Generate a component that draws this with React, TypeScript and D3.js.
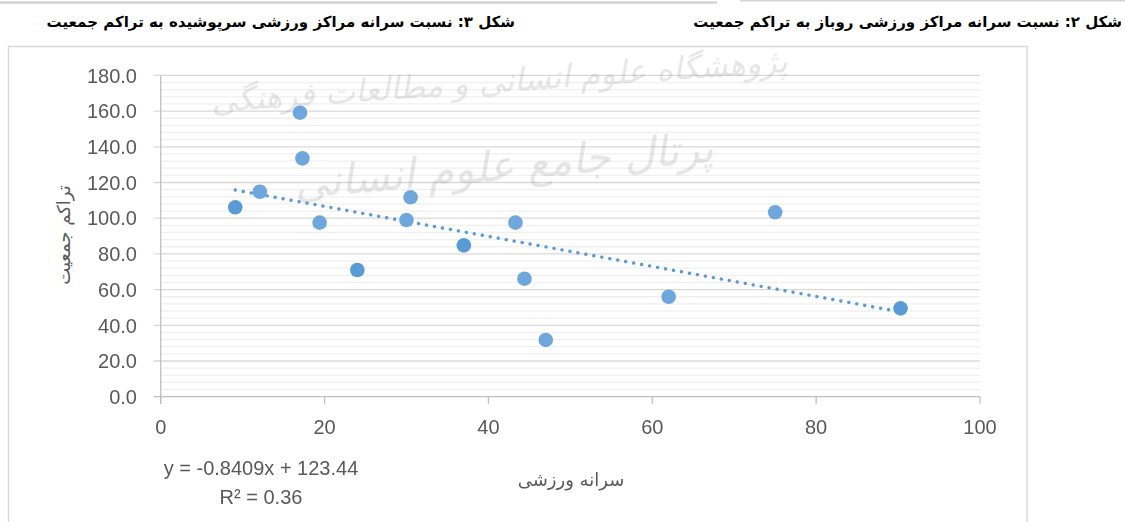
import React from "react";
import * as d3 from "d3";

// ---- data ----
const sportPerCapita = [9.1, 12.1, 17.0, 17.3, 19.4, 24.0, 30.0, 30.5, 37.0, 43.3, 44.4, 47.0, 62.0, 75.0, 90.3];
const populationDensity = [106.1, 114.8, 159.1, 133.5, 97.5, 71.0, 99.0, 111.7, 84.8, 97.5, 66.1, 31.8, 56.0, 103.3, 49.5];
const xTicks = [0, 20, 40, 60, 80, 100];
const yTicks = [0, 20, 40, 60, 80, 100, 120, 140, 160, 180];
const trendSlope = -0.8409;
const trendIntercept = 123.44;
const equationLabel = "y = -0.8409x + 123.44";
const r2Label = "R² = 0.36";
const xTitle = "سرانه ورزشی";
const yTitle = "تراکم جمعیت";
const titleRight = "شکل ۲: نسبت سرانه مراکز ورزشی روباز به تراکم جمعیت";
const titleLeft = "شکل ۳: نسبت سرانه مراکز ورزشی سرپوشیده به تراکم جمعیت";
const watermark1 = "پژوهشگاه علوم انسانی و مطالعات فرهنگی";
const watermark2 = "پرتال جامع علوم انسانی";

// style: points rendered slightly darker in the reference
const darkerIdx = new Set([0, 5, 8, 14]);

const W = 1125;
const H = 522;

export default function App() {
  const x = d3.scaleLinear().domain([0, 100]).range([160.7, 980]);
  const y = d3.scaleLinear().domain([0, 180]).range([396.7, 75.4]);
  const minor = d3.range(0, 181, 4).filter((v) => v % 20 !== 0);
  const tickFont = "'Liberation Sans', Arial, sans-serif";
  const xExt = d3.extent(sportPerCapita) as [number, number];
  const trend = d3
    .line<number>()
    .x((v) => x(v))
    .y((v) => y(trendIntercept + trendSlope * v));

  return (
    <svg
      width={W}
      height={H}
      viewBox={`0 0 ${W} ${H}`}
      style={{ position: "absolute", left: 0, top: 0, background: "#fff" }}
    >
      {/* remnants of previous figure frames */}
      <line x1={0} x2={717} y1={2.5} y2={2.5} stroke="#d4d4d4" strokeWidth={2.5} />
      <line x1={740} x2={W} y1={0.75} y2={0.75} stroke="#d4d4d4" strokeWidth={1.5} />

      {/* titles */}
      <text
        x={1122}
        y={27}
        direction="rtl"
        textAnchor="start"
        fontFamily="'DejaVu Sans', sans-serif"
        fontWeight="bold"
        fontSize={15}
        fill="#000"
      >
        {titleRight}
      </text>
      <text
        x={515}
        y={27}
        direction="rtl"
        textAnchor="start"
        fontFamily="'DejaVu Sans', sans-serif"
        fontWeight="bold"
        fontSize={15}
        fill="#000"
      >
        {titleLeft}
      </text>

      {/* chart frame */}
      <rect x={8.5} y={46.5} width={1018.5} height={500} fill="#fff" stroke="#d9d9d9" strokeWidth={1.5} />

      {/* minor gridlines */}
      {minor.map((v) => (
        <line key={"m" + v} x1={x(0)} x2={x(100)} y1={y(v)} y2={y(v)} stroke="#f0f0f0" strokeWidth={1.3} />
      ))}
      {/* major gridlines */}
      {yTicks
        .filter((v) => v !== 0)
        .map((v) => (
          <line key={"g" + v} x1={x(0) - 7} x2={x(100)} y1={y(v)} y2={y(v)} stroke="#d9d9d9" strokeWidth={1.3} />
        ))}

      {/* watermark */}
      <g opacity={0.22} fill="#8a8a8a" fontFamily="'DejaVu Sans', sans-serif" fontStyle="italic">
        <text x={500} y={92} textAnchor="middle" direction="rtl" fontSize={32} transform="rotate(-4 500 92)">
          {watermark1}
        </text>
        <text x={505} y={180} textAnchor="middle" direction="rtl" fontSize={42} transform="rotate(-5 505 180)">
          {watermark2}
        </text>
      </g>

      {/* axes */}
      <line x1={x(0) - 7} x2={x(100)} y1={y(0)} y2={y(0)} stroke="#bfbfbf" strokeWidth={1.3} />
      <line x1={x(0)} x2={x(0)} y1={y(180)} y2={y(0) + 7} stroke="#bfbfbf" strokeWidth={1.3} />
      {xTicks.map((v) => (
        <line key={"xt" + v} x1={x(v)} x2={x(v)} y1={y(0)} y2={y(0) + 7} stroke="#bfbfbf" strokeWidth={1.3} />
      ))}

      {/* tick labels */}
      {yTicks.map((v) => (
        <text
          key={"yl" + v}
          x={137}
          y={y(v)}
          dy="0.36em"
          textAnchor="end"
          fontFamily={tickFont}
          fontSize={20}
          fill="#595959"
        >
          {v.toFixed(1)}
        </text>
      ))}
      {xTicks.map((v) => (
        <text
          key={"xl" + v}
          x={x(v)}
          y={427}
          dy="0.36em"
          textAnchor="middle"
          fontFamily={tickFont}
          fontSize={20}
          fill="#595959"
        >
          {v}
        </text>
      ))}

      {/* trendline */}
      <path
        d={trend(d3.range(xExt[0], xExt[1] + 0.001, (xExt[1] - xExt[0]) / 50)) || ""}
        fill="none"
        stroke="#5B9BD5"
        strokeWidth={3.4}
        strokeDasharray="0.1 8"
        strokeLinecap="round"
      />

      {/* points */}
      {sportPerCapita.map((v, i) => (
        <circle
          key={"p" + i}
          cx={x(v)}
          cy={y(populationDensity[i])}
          r={7.3}
          fill={darkerIdx.has(i) ? "#5B9BD5" : "#6FA7DC"}
        />
      ))}

      {/* trend equation */}
      <text x={261} y={468} dy="0.36em" textAnchor="middle" fontFamily={tickFont} fontSize={20} fill="#595959">
        {equationLabel}
      </text>
      <text x={261} y={497} dy="0.36em" textAnchor="middle" fontFamily={tickFont} fontSize={20} fill="#595959">
        {r2Label}
      </text>

      {/* axis titles */}
      <text
        x={571}
        y={480}
        dy="0.36em"
        textAnchor="middle"
        direction="rtl"
        fontFamily="'DejaVu Sans', sans-serif"
        fontSize={18}
        fill="#595959"
      >
        {xTitle}
      </text>
      <text
        transform={`translate(64, 235) rotate(-90)`}
        textAnchor="middle"
        dy="0.36em"
        direction="rtl"
        fontFamily="'DejaVu Sans', sans-serif"
        fontSize={18}
        fill="#595959"
      >
        {yTitle}
      </text>
    </svg>
  );
}
